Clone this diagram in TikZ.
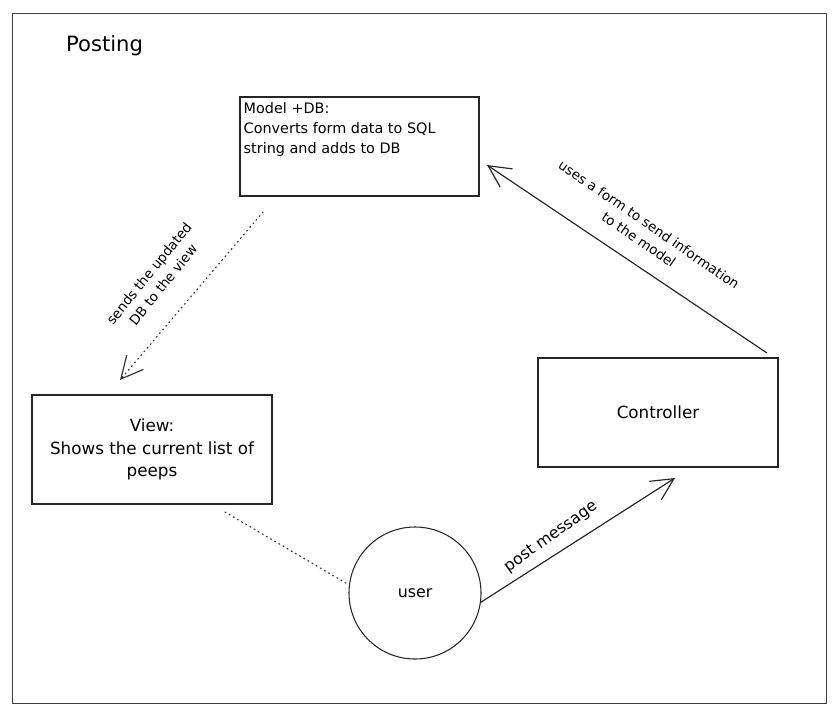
\documentclass[tikz,border=0pt]{standalone}
\usepackage{fontspec}
\setmainfont{DejaVu Sans}
\usetikzlibrary{arrows.meta,positioning}

\begin{document}
\begin{tikzpicture}[
  x=0.03cm, y=-0.03cm,
  boxnode/.style={rectangle, draw=black!85, line width=0.9pt, inner sep=0pt},
  usernode/.style={circle, draw=black!85, line width=0.9pt, minimum size=3.96cm, inner sep=0pt,
                   font=\fontsize{13.5}{16}\selectfont},
  boxtext/.style={align=center, font=\fontsize{14.3}{19}\selectfont},
  edgetext/.style={align=center, font=\fontsize{11.5}{15.5}\selectfont, inner sep=0pt},
  link/.style={draw=black!85, line width=1pt},
  dotlink/.style={draw=black!80, line width=1pt, dash pattern=on 0.9pt off 3.2pt, line cap=round},
  >={Straight Barb[length=0.66cm, width=0.66cm, line width=1pt]}
]

\useasboundingbox (0,0) rectangle (838,717);

% Frame and title
\draw[draw=black!75, line width=0.8pt] (12,13) rectangle (826,703);
\node[font=\fontsize{18}{20}\selectfont, anchor=west] (title) at (62,46) {Posting};

% Model node
\node[boxnode, minimum width=7.17cm, minimum height=2.97cm] (model) at (359.5,146.5) {};
\node[anchor=north west, align=left, inner sep=0pt, font=\fontsize{12.3}{17}\selectfont]
  (modeltext) at ([xshift=0.12cm, yshift=-0.17cm]model.north west)
  {Model +DB:\\Converts form data to SQL\\string and adds to DB};

% View node
\node[boxnode, boxtext, minimum width=7.2cm, minimum height=3.27cm] (view) at (152,449.5)
  {View:\\Shows the current list of\\peeps};

% Controller node
\node[boxnode, boxtext, minimum width=7.2cm, minimum height=3.27cm] (ctrl) at (658,412.5)
  {Controller};

% User node
\node[usernode] (user) at (415,593) {user};

% Connector end points
\coordinate (mfoot) at (263,212);
\coordinate (vhead) at (120,380);
\coordinate (vfoot) at (225,512);
\coordinate (chead) at (675,478);
\coordinate (ctop) at (767,353);
\coordinate (mhead) at (487,165);

% Arrows
\draw[dotlink, ->] (mfoot) -- (vhead);
\draw[dotlink] (vfoot) -- (user.173);
\draw[link, ->] (user.-8) -- (chead);
\draw[link, ->] (ctop) -- (mhead);

% Labels
\node[edgetext, rotate=51] (sendlabel) at (156,279) {sends the updated\\DB to the view};
\node[edgetext, rotate=-34.5] (formlabel) at (644,232) {uses a form to send information\\to the model};
\node[edgetext, rotate=35.5, font=\fontsize{13.5}{15}\selectfont] (postlabel) at (551,537) {post message};

\end{tikzpicture}
\end{document}
